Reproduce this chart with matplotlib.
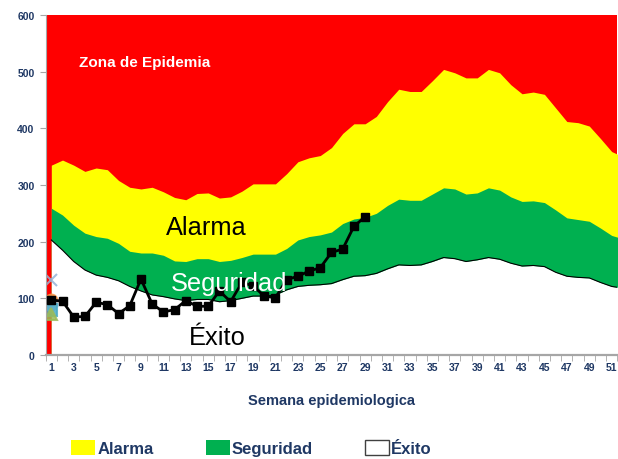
import matplotlib
matplotlib.use("Agg")
import matplotlib.pyplot as plt
from matplotlib.patches import Patch
import numpy as np

# weeks and the channel limits
weeks = list(range(1, 53))
alarma = [335, 344, 335, 324, 330, 327, 308, 296, 293, 296, 288, 278, 274, 285, 286, 277,
          279, 289, 302, 302, 302, 320, 341, 348, 352, 366, 391, 408, 408, 421, 447, 469,
          465, 465, 484, 504, 498, 489, 489, 504, 498, 477, 461, 464, 460, 436, 412, 410,
          404, 382, 359, 350]
seguridad = [259, 247, 229, 215, 209, 206, 197, 183, 180, 180, 176, 166, 165, 170, 170, 165,
             167, 172, 178, 178, 178, 188, 203, 209, 212, 217, 232, 240, 243, 250, 264, 275,
             273, 273, 284, 295, 293, 284, 286, 295, 291, 279, 271, 272, 269, 256, 242, 239,
             236, 224, 211, 205]
exito = [203, 185, 165, 150, 141, 137, 131, 121, 113, 106, 103, 99, 96, 98, 98, 94,
         96, 100, 104, 104, 106, 115, 121, 123, 124, 126, 133, 139, 140, 144, 152, 159,
         158, 159, 165, 172, 170, 165, 168, 172, 169, 162, 157, 158, 156, 146, 139, 137,
         136, 128, 121, 118]

# cases of the current year
case_weeks = list(range(1, 30))
casos = [97, 95, 67, 68, 93, 89, 73, 87, 134, 90, 76, 80, 96, 86, 86, 113,
         94, 128, 122, 104, 101, 133, 139, 148, 154, 181, 187, 227, 244]

# stray single points of other series at week 1
extra_vals = [132, 97, 88, 80, 72]
extra_marks = ['x', 'o', 'D', 's', '^']
extra_cols = ['#95B3D7', '#F79646', '#B9CDE5', '#4BACC6', '#9BBB59']

navy = '#1F3864'
font = 'Liberation Sans'

fig = plt.figure(figsize=(6.18, 4.6), dpi=100)
ax = fig.add_axes([45.7 / 618, 104 / 460, 571.6 / 618, 340 / 460])
ax.set_facecolor('#FF0000')

ax.fill_between(weeks, 0, alarma, color='#FFFF00', lw=0)
ax.fill_between(weeks, 0, seguridad, color='#00B050', lw=0)
ax.fill_between(weeks, 0, exito, color='white', lw=0)
ax.plot(weeks, exito, color='black', lw=0.8)

for v, m, c in zip(extra_vals, extra_marks, extra_cols):
    ax.plot([1], [v], marker=m, color=c, ms=8.5, mew=1.5, ls='none', alpha=0.85)

ax.plot(case_weeks, casos, color='black', lw=2.0, marker='s', ms=5.5, zorder=5)

ax.set_xlim(0.5, 51.5)
ax.set_ylim(0, 600)

ax.set_yticks(range(0, 601, 100))
ax.set_xticks(range(1, 52, 2))
ax.set_xticks(np.arange(0.5, 52, 1), minor=True)
ax.tick_params(axis='x', which='major', length=0, pad=5)
ax.tick_params(axis='x', which='minor', length=4, color='#A6A6A6')
ax.tick_params(axis='y', length=4, color='#A6A6A6', pad=4)
for lab in ax.get_xticklabels() + ax.get_yticklabels():
    lab.set_fontweight('bold')
    lab.set_color(navy)
    lab.set_fontsize(7.5)
    lab.set_family(font)

for s in ['top', 'right']:
    ax.spines[s].set_visible(False)
ax.spines['left'].set_color('#A6A6A6')
ax.spines['bottom'].set_color('#A6A6A6')
ax.spines['bottom'].set_linewidth(1.6)

ax.set_xlabel('Semana epidemiologica', fontsize=10.5, fontweight='bold', color=navy,
              family=font, labelpad=15)

ax.text(3.5, 510, 'Zona de Epidemia', color='white', fontweight='bold', fontsize=11,
        family=font, ha='left', va='baseline', zorder=6)
ax.text(14.8, 213, 'Alarma', color='black', fontsize=18.3, family=font,
        ha='center', va='baseline', zorder=6)
ax.text(16.9, 114, 'Seguridad', color='white', fontsize=18.3, family=font,
        ha='center', va='baseline', zorder=6)
ax.text(15.8, 20, 'Éxito', color='black', fontsize=18.3, family=font,
        ha='center', va='baseline', zorder=6)

handles = [Patch(facecolor='#FFFF00', edgecolor='none', label='Alarma'),
           Patch(facecolor='#00B050', edgecolor='none', label='Seguridad'),
           Patch(facecolor='white', edgecolor='#404040', lw=1, label='Éxito')]
leg = fig.legend(handles=handles, loc='center', bbox_to_anchor=(0.407, 0.024), ncol=3,
                 frameon=False, prop={'family': font, 'weight': 'bold', 'size': 12},
                 handlelength=1.45, handleheight=1.0, handletextpad=0.1, columnspacing=3.15,
                 borderpad=0, borderaxespad=0)
for t in leg.get_texts():
    t.set_color(navy)

fig.savefig('out.png', dpi=100)
